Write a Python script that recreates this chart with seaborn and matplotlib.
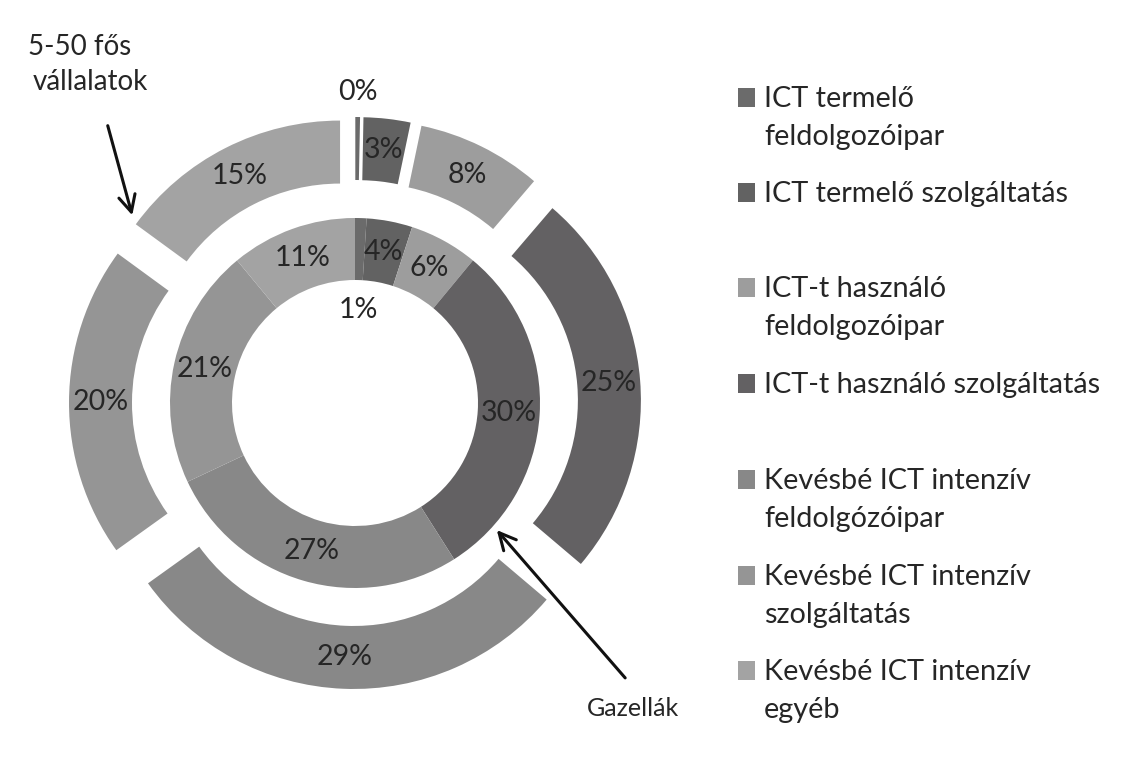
import matplotlib
matplotlib.use("Agg")
import matplotlib.pyplot as plt
import matplotlib.patches as mpatches
import seaborn as sns
import numpy as np

# ---- data ----
categories = [
    "ICT termelő\nfeldolgozóipar",
    "ICT termelő szolgáltatás",
    "ICT-t használó\nfeldolgozóipar",
    "ICT-t használó szolgáltatás",
    "Kevésbé ICT intenzív\nfeldolgózóipar",
    "Kevésbé ICT intenzív\nszolgáltatás",
    "Kevésbé ICT intenzív\negyéb",
]
gazellak = [1, 4, 6, 30, 27, 21, 11]          # inner ring
vallalatok_5_50 = [0.3, 3, 8, 25, 29, 20, 15]  # outer ring
colors = ["#6b6b6b", "#626262", "#9d9d9d", "#636163", "#888888", "#959595", "#a3a3a3"]

# ---- style ----
sns.set_theme(style="white")
plt.rcParams["font.family"] = ["Lato", "DejaVu Sans"]
TXT = "#262626"

W, H = 1122, 760
fig = plt.figure(figsize=(W / 100, H / 100), dpi=100)
ax = fig.add_axes([0, 0, 1, 1])

CX, CY = 355, H - 403
inner = ax.pie(gazellak, radius=185, center=(CX, CY), startangle=90,
               counterclock=False, colors=colors,
               wedgeprops=dict(width=62, linewidth=0))
outer = ax.pie(vallalatok_5_50, radius=253, center=(CX, CY), startangle=90,
               counterclock=False, colors=colors, explode=[33] * len(vallalatok_5_50),
               wedgeprops=dict(width=63, linewidth=0))

ax.set_xlim(0, W)
ax.set_ylim(0, H)
ax.set_aspect("equal")
ax.axis("off")


def label_ring(wedges, values, special=None):
    special = special or {}
    for i, (w, v) in enumerate(zip(wedges, values)):
        th = np.deg2rad((w.theta1 + w.theta2) / 2)
        r = special.get(i, w.r - w.width / 2)
        cx, cy = w.center
        ax.text(cx + r * np.cos(th), cy + r * np.sin(th), f"{round(v)}%",
                ha="center", va="center", fontsize=20.5, color=TXT)


label_ring(inner[0], gazellak, special={0: 93})
label_ring(outer[0], vallalatok_5_50, special={0: 278})

# ---- annotations ----
ax.text(28, H - 55, "5-50 fős", fontsize=20, color=TXT, ha="left", va="baseline")
ax.text(33, H - 90, "vállalatok", fontsize=20, color=TXT, ha="left", va="baseline")
ax.annotate("", xy=(133, H - 218), xytext=(107, H - 123),
            arrowprops=dict(arrowstyle="->", lw=2.2, color="#111111", mutation_scale=30))
ax.text(633, H - 716, "Gazellák", fontsize=18, color=TXT, ha="center", va="baseline")
ax.annotate("", xy=(495, H - 528), xytext=(627, H - 680),
            arrowprops=dict(arrowstyle="->", lw=2.2, color="#111111", mutation_scale=30))

# ---- legend ----
baselines = [107, 202, 297, 393, 489, 585, 680]
for lab, col, b in zip(categories, colors, baselines):
    ax.add_patch(mpatches.Rectangle((738, H - b), 17, 19, facecolor=col, edgecolor="none"))
    for j, line in enumerate(lab.split("\n")):
        ax.text(764, H - (b + 38 * j), line, fontsize=20.8, color=TXT,
                ha="left", va="baseline")

fig.savefig("out.png", dpi=100)
